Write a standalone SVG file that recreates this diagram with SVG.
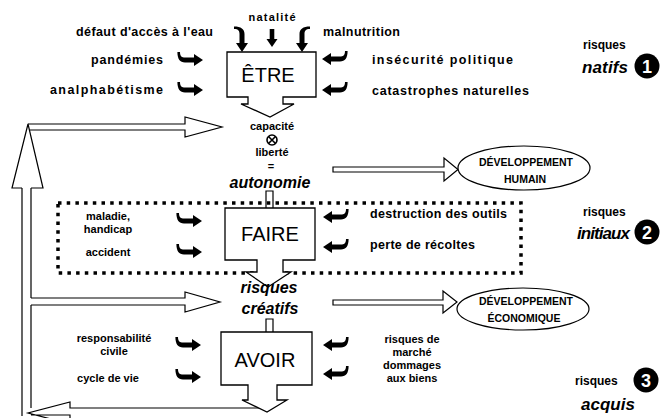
<svg xmlns="http://www.w3.org/2000/svg" xmlns:xlink="http://www.w3.org/1999/xlink" width="665" height="418" viewBox="0 0 665 418">
<style>
text{font-family:"Liberation Sans",Arial,sans-serif;fill:#000}
.l{font-size:12.5px;font-weight:bold}
.lc{font-size:11px;font-weight:bold;text-anchor:middle}
.box{fill:#fff;stroke:#000;stroke-width:1.3}
.bt{font-size:20px;text-anchor:middle}
.bi{font-size:16px;font-weight:bold;font-style:italic;text-anchor:middle}
.hol{fill:#fff;stroke:#000;stroke-width:1.2;stroke-linejoin:miter}
.ln{fill:none;stroke:#000;stroke-width:1.2}
.el{fill:#fff;stroke:#000;stroke-width:1.2}
.et{font-size:10.5px;font-weight:bold;text-anchor:middle}
.num{fill:#000}
.nt{font-size:18px;font-weight:bold;fill:#fff;text-anchor:middle}
.rk{font-size:12px;font-weight:bold}
.rki{font-size:17px;font-weight:bold;font-style:italic}
</style>
<defs>
<path id="hr" d="M0,-6 C0,-1.5 2,-0.5 5,-0.5 L14,-0.5 L14,-4 L23,2 L14,8 L14,4.5 L5,4.5 C0,4.5 -2.6,1 -2.6,-6 Z"/>
<path id="dn" d="M-2.3,0 H2.3 V10 H5.5 L0,18 L-5.5,10 H-2.3 Z"/>
</defs>

<g id="big-loop">
<path class="hol" d="M28,124 H185 V117 L222,127 L185,137 V130 H30"/>
<path class="hol" d="M31,298 H185 V292 L220,302 L185,312 V305 H31"/>
<path class="hol" d="M267,408 H70 V402 L28,413 L70,424 V415 H31"/>
<path class="ln" d="M22,188 V416 M31,188 V298 M31,305 V408"/>
<path class="hol" d="M22,188 H12 L28,124 L43,188 H31"/>
</g>

<g id="connectors">
<path class="hol" d="M333,167 H444 V158 L458,169.5 L444,181 V172 H333 Z"/>
<path class="hol" d="M333,300 H443 V291 L457,302 L443,313 V305 H333 Z"/>
<path class="hol" d="M266,191 H273 V210 H278 L269.5,220 L261,210 H266 Z"/>
<path class="hol" d="M266,319 H273 V336 H278 L269.5,346 L261,336 H266 Z"/>
<use xlink:href="#hr" transform="translate(180,58)"/>
<use xlink:href="#hr" transform="translate(180,88)"/>
<use xlink:href="#hr" transform="translate(345,57) scale(-1,1)"/>
<use xlink:href="#hr" transform="translate(345,88) scale(-1,1)"/>
<use xlink:href="#hr" transform="translate(240,29) scale(-1,1) rotate(90)"/>
<use xlink:href="#dn" transform="translate(272,29)"/>
<use xlink:href="#hr" transform="translate(304,29) rotate(90)"/>
<use xlink:href="#hr" transform="translate(179,219)"/>
<use xlink:href="#hr" transform="translate(179,250)"/>
<use xlink:href="#hr" transform="translate(346,215) scale(-1,1)"/>
<use xlink:href="#hr" transform="translate(346,245) scale(-1,1)"/>
<use xlink:href="#hr" transform="translate(178,343)"/>
<use xlink:href="#hr" transform="translate(178,375)"/>
<use xlink:href="#hr" transform="translate(346,343) scale(-1,1)"/>
<use xlink:href="#hr" transform="translate(346,372) scale(-1,1)"/>
</g>

<g id="zone-initiaux">
<rect x="58" y="203" width="463" height="70" fill="none" stroke="#000" stroke-width="3.5" stroke-dasharray="3.5 5.2"/>
</g>

<g id="etre">
<path class="box" d="M227,52 H316 V97 H283 V104 H294 L270,117 L241,104 H248 V97 H227 Z"/>
<text class="bt" x="268" y="82" font-size="19.5">ÊTRE</text>
</g>

<g id="faire">
<path class="box" d="M225,208 H315 V260 H283 V272 H291 L268,287 L246,272 H257 V260 H225 Z"/>
<text class="bt" x="270" y="241">FAIRE</text>
</g>

<g id="avoir">
<path class="box" d="M221,332 H312 V385 H277 V400 H287 L267,412 L242,400 H248 V385 H221 Z"/>
<text class="bt" x="265" y="367" font-size="20.5">AVOIR</text>
</g>

<g id="autonomie">
<text class="lc" x="272" y="130" font-size="10.5">capacité</text>
<circle cx="272" cy="140" r="5" fill="none" stroke="#000" stroke-width="1.6"/>
<path d="M268.5,136.5 L275.5,143.5 M275.5,136.5 L268.5,143.5" stroke="#000" stroke-width="1.6"/>
<text class="lc" x="272" y="156" font-size="10.5">liberté</text>
<text class="lc" x="271" y="170" font-size="10">=</text>
<text class="bi" x="270" y="188">autonomie</text>
</g>

<g id="risques-creatifs">
<text class="bi" x="269" y="293" font-size="15.5">risques</text>
<text class="bi" x="270" y="314" font-size="15.5">créatifs</text>
</g>

<g id="dev-humain">
<ellipse class="el" cx="524" cy="168" rx="66" ry="22"/>
<text class="et" x="526" y="166">DÉVELOPPEMENT</text>
<text class="et" x="525" y="183">HUMAIN</text>
</g>

<g id="dev-economique">
<ellipse class="el" cx="523" cy="309" rx="66" ry="21"/>
<text class="et" x="526" y="305">DÉVELOPPEMENT</text>
<text class="et" x="524" y="322">ÉCONOMIQUE</text>
</g>

<g id="risques-natifs">
<text class="lc" x="272" y="21" font-size="12" textLength="47">natalité</text>
<text class="l" x="76" y="36" textLength="137">défaut d'accès à l'eau</text>
<text class="l" x="323" y="36" textLength="77">malnutrition</text>
<text class="l" x="91" y="64" textLength="72">pandémies</text>
<text class="l" x="50" y="94" textLength="113">analphabétisme</text>
<text class="l" x="372" y="64" textLength="141">insécurité politique</text>
<text class="l" x="372" y="95" textLength="157">catastrophes naturelles</text>
</g>

<g id="risques-initiaux">
<text class="lc" x="108" y="220">maladie,</text>
<text class="lc" x="108" y="233">handicap</text>
<text class="lc" x="108" y="256" font-size="12">accident</text>
<text class="l" x="370" y="218" textLength="137">destruction des outils</text>
<text class="l" x="370" y="249" textLength="105">perte de récoltes</text>
</g>

<g id="risques-acquis">
<text class="lc" x="114" y="342">responsabilité</text>
<text class="lc" x="114" y="355">civile</text>
<text class="lc" x="108" y="382" font-size="12">cycle de vie</text>
<text class="lc" x="412" y="343">risques de</text>
<text class="lc" x="412" y="356">marché</text>
<text class="lc" x="412" y="369">dommages</text>
<text class="lc" x="412" y="382">aux biens</text>
</g>

<g id="legend-1">
<text class="rk" x="583" y="49">risques</text>
<text class="rki" x="582" y="73" textLength="46">natifs</text>
<circle class="num" cx="647" cy="66" r="12.5"/>
<text class="nt" x="647" y="72.5">1</text>
</g>
<g id="legend-2">
<text class="rk" x="583" y="216">risques</text>
<text class="rki" x="577" y="239" textLength="53">initiaux</text>
<circle class="num" cx="647" cy="232" r="12.5"/>
<text class="nt" x="647" y="238.5">2</text>
</g>
<g id="legend-3">
<text class="rk" x="575" y="385">risques</text>
<text class="rki" x="581" y="410" font-size="16">acquis</text>
<circle class="num" cx="646" cy="380" r="12.5"/>
<text class="nt" x="646" y="386.5">3</text>
</g>
</svg>
